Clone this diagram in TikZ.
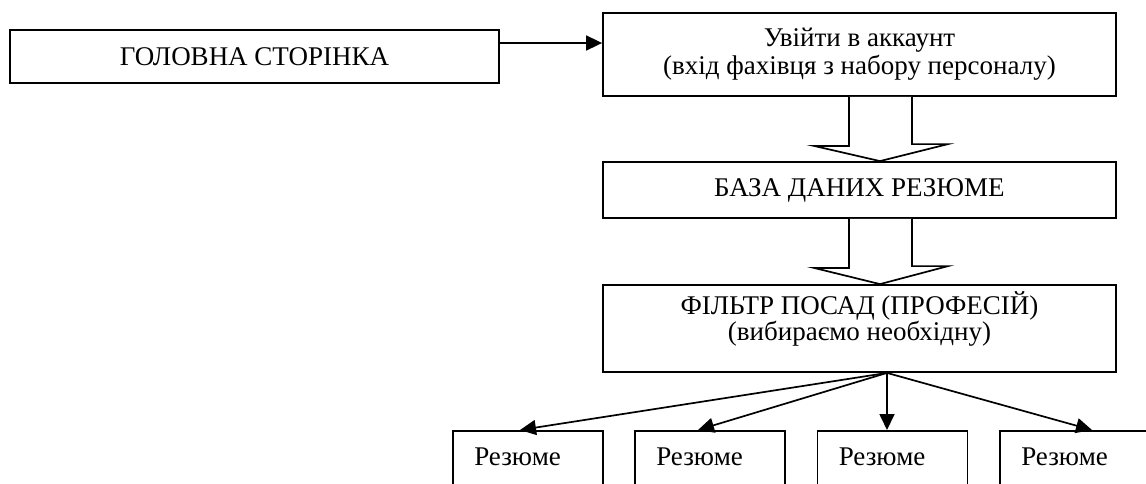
\documentclass[tikz,border=0pt]{standalone}
\usepackage{fontspec}
\setmainfont{Liberation Serif}
\usetikzlibrary{arrows.meta}
\tikzset{
  box/.style={draw, line width=1.8pt, inner sep=0pt, align=center, font=\fontsize{27}{28}\selectfont},
  resbox/.style={draw, line width=1.8pt, inner sep=0pt, minimum width=150pt, minimum height=90pt},
  restext/.style={anchor=base west, inner sep=0pt, font=\fontsize{27}{28}\selectfont},
  arr/.style={line width=1.7pt, -{Triangle[length=16pt,width=15pt]}},
  hollow/.style={draw, line width=1.7pt, fill=white, line join=miter}
}
\begin{document}
\begin{tikzpicture}[x=1pt, y=-1pt]
\useasboundingbox (0,0) rectangle (1146,483);
\clip (0,0) rectangle (1146,483);
% boxes
\node[box, minimum width=489pt, minimum height=53pt] (b1) at (254.5,56.5) {ГОЛОВНА СТОРІНКА};
\node[box, minimum width=513pt, minimum height=83pt] (b2) at (859.5,54.5) {Увійти в аккаунт\\(вхід фахівця з набору персоналу)};
\node[box, minimum width=513pt, minimum height=56pt] (b3) at (859.5,190) {БАЗА ДАНИХ РЕЗЮМЕ};
\node[box, minimum width=513pt, minimum height=87pt, text depth=25pt, font=\fontsize{27}{25}\selectfont] (b4) at (859.5,328.5) {ФІЛЬТР ПОСАД (ПРОФЕСІЙ)\\(вибираємо необхідну)};
\node[resbox, anchor=north] (r1) at (528,430) {};
\node[resbox, anchor=north] (r2) at (710,430) {};
\node[resbox, anchor=north] (r3) at (892.5,430) {};
\node[resbox, anchor=north] (r4) at (1075,430) {};
\node[restext] (t1) at ([xshift=22pt,yshift=-35pt]r1.north west) {Резюме};
\node[restext] (t2) at ([xshift=22pt,yshift=-35pt]r2.north west) {Резюме};
\node[restext] (t3) at ([xshift=22pt,yshift=-35pt]r3.north west) {Резюме};
\node[restext] (t4) at ([xshift=22pt,yshift=-35pt]r4.north west) {Резюме};
% main arrow
\coordinate (s) at ([yshift=13.5pt]b1.east);
\draw[arr] (s) -- (s -| b2.west);
% hollow arrows
\draw[hollow] ([xshift=-10.5pt]b2.south) -- ++(0,49) -- ++(-35,0) -- ([xshift=20.5pt]b3.north) -- ([xshift=88.5pt,yshift=17pt]b3.north) -- ++(-36,0) -- ([xshift=52.5pt]b2.south);
\draw[hollow] ([xshift=-10.5pt]b3.south) -- ++(0,49) -- ++(-35,0) -- ([xshift=20.5pt]b4.north) -- ([xshift=88.5pt,yshift=18pt]b4.north) -- ++(-36,0) -- ([xshift=52.5pt]b3.south);
% fan
\coordinate (f) at ([xshift=27.5pt]b4.south);
\draw[arr] (f) -- ([xshift=-8pt]r1.north);
\draw[arr] (f) -- ([xshift=-12pt]r2.north);
\draw[arr] (f) -- ([xshift=-5.5pt]r3.north);
\draw[arr] (f) -- ([xshift=17pt]r4.north);
\end{tikzpicture}
\end{document}
